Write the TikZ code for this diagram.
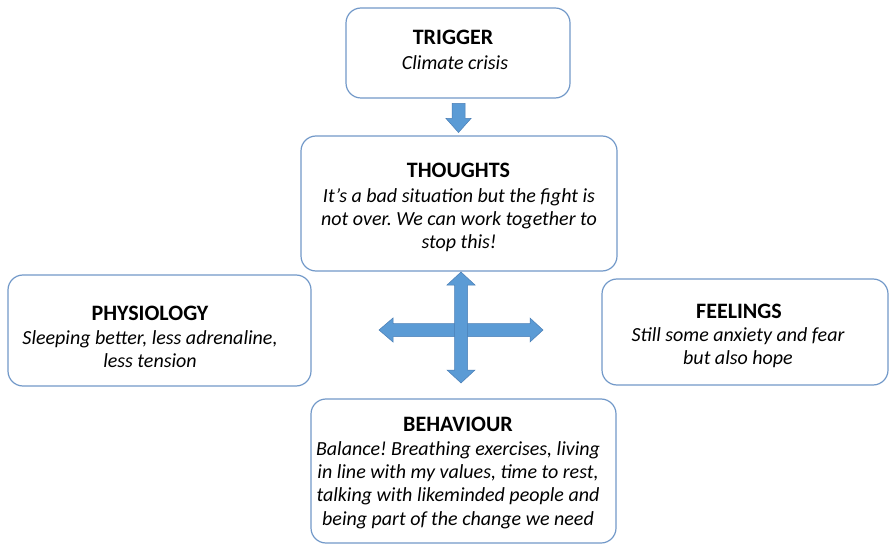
\documentclass[tikz,border=0pt]{standalone}
\usepackage{fontspec}
\setmainfont{Carlito}
\frenchspacing
\usetikzlibrary{calc}
\definecolor{boxline}{HTML}{7299C9}
\definecolor{arrowfill}{HTML}{5B9BD5}
\definecolor{arrowline}{HTML}{4A7EB5}
\tikzset{
  card/.style={draw=boxline, line width=1.2pt, rounded corners=15pt, fill=white},
  title/.style={font=\fontsize{22}{25}\selectfont\bfseries, anchor=base, inner sep=0pt},
  % body texts are placed by the baseline of their last line
  body/.style={font=\fontsize{20}{23.2}\selectfont\itshape, align=center, anchor=base, inner sep=0pt},
  blockarrow/.style={fill=arrowfill, draw=arrowline, line width=0.5pt, line join=miter}
}
\begin{document}
\begin{tikzpicture}[x=1pt,y=-1pt]
\useasboundingbox (0,0) rectangle (891,545);
\fill[white] (0,0) rectangle (891,545);

% boxes
\draw[card] (346,8) rectangle (570,98);
\draw[card] (301,136) rectangle (617,271);
\draw[card] (8,275) rectangle (311,386);
\draw[card] (602,279) rectangle (888,385);
\draw[card] (311,399) rectangle (616,543);

% texts
\node[title] (t1) at (453,45) {TRIGGER};
\node[body] (b1) at (455,70) {Climate crisis};
\node[title] (t2) at (458.5,177.5) {THOUGHTS};
\node[body] (b2) at (459,249) {It’s a bad situation but the fight is\\not over. We can work together to\\stop this!};
\node[title] (t3) at (150,320) {PHYSIOLOGY};
\node[body] (b3) at (150,367.5) {Sleeping better, less adrenaline,\\less tension};
\node[title] (t4) at (739,318) {FEELINGS};
\node[body] (b4) at (738,364.5) {Still some anxiety and fear\\but also hope};
\node[title] (t5) at (458,431) {BEHAVIOUR};
\node[body] (b5) at (458,525) {Balance! Breathing exercises, living\\in line with my values, time to rest,\\talking with likeminded people and\\being part of the change we need};

% trigger -> thoughts
\coordinate (da) at (458.5,103.5);
\draw[blockarrow] ($(da)+(-6.5,0)$) -- ($(da)+(6.5,0)$) -- ($(da)+(6.5,15)$) -- ($(da)+(12.5,15)$)
  -- ($(da)+(0,29)$) -- ($(da)+(-12.5,15)$) -- ($(da)+(-6.5,15)$) -- cycle;

% four-way arrow
\coordinate (c) at (461,330);
\draw[blockarrow] ($(c)+(-82,0)$) -- ($(c)+(-68,-12)$) -- ($(c)+(-68,-6.5)$) -- ($(c)+(69,-6.5)$)
  -- ($(c)+(69,-12)$) -- ($(c)+(82,0)$) -- ($(c)+(69,12)$) -- ($(c)+(69,6.5)$)
  -- ($(c)+(-68,6.5)$) -- ($(c)+(-68,12)$) -- cycle;
\draw[blockarrow] ($(c)+(0,-58)$) -- ($(c)+(14,-45)$) -- ($(c)+(6.5,-45)$) -- ($(c)+(6.5,40)$)
  -- ($(c)+(14,40)$) -- ($(c)+(0,53)$) -- ($(c)+(-14,40)$) -- ($(c)+(-6.5,40)$)
  -- ($(c)+(-6.5,-45)$) -- ($(c)+(-14,-45)$) -- cycle;
\end{tikzpicture}
\end{document}
